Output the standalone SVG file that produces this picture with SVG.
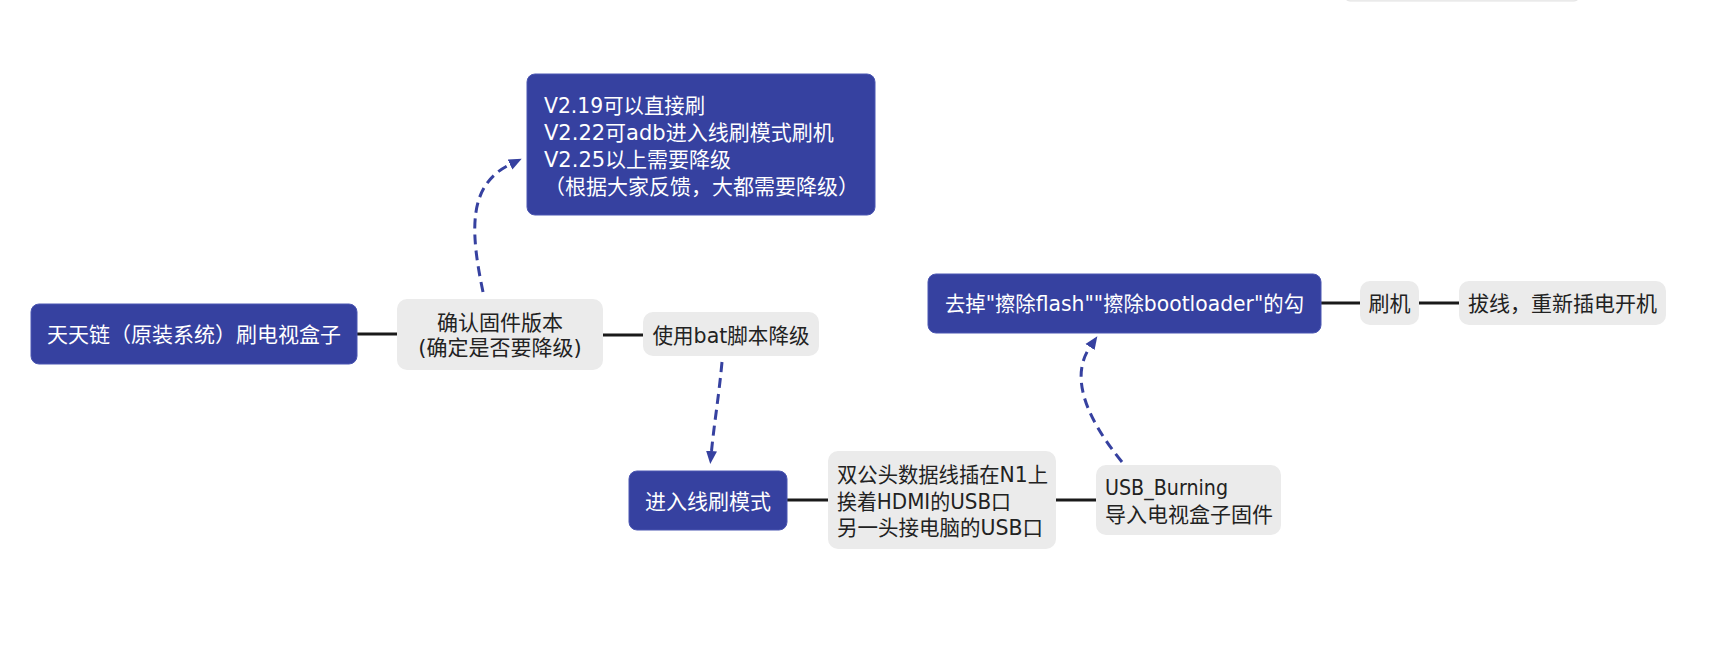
<svg xmlns="http://www.w3.org/2000/svg" width="1719" height="656" viewBox="0 0 1719 656">
<defs>
<style>
.blue{fill:#3641A0;stroke:#4b56b2;stroke-width:1}
.gray{fill:#EBEBEB}
.t{font-family:"DejaVu Sans","Noto Sans CJK SC",sans-serif;font-size:21px}
.tw{fill:#ffffff}
.td{fill:#222222}
.m{text-anchor:middle}
.line{stroke:#1a1a1a;stroke-width:3;fill:none}
.dash{stroke:#3641A0;stroke-width:3;fill:none;stroke-dasharray:10 6}
</style>
<marker id="ah" markerUnits="userSpaceOnUse" markerWidth="14" markerHeight="14" viewBox="0 0 14 14" refX="0" refY="7" orient="auto">
<path d="M0,1.5 L13,7 L0,12.5 z" fill="#3641A0"/>
</marker>
</defs>
<rect width="1719" height="656" fill="#ffffff"/>
<rect x="1344" y="-20" width="236" height="21" rx="6" fill="#f2f2f2" stroke="#e2e2e2" stroke-width="1"/>
<g id="connectors">
<line class="line" x1="357" y1="334" x2="397" y2="334"/>
<line class="line" x1="603" y1="335" x2="643" y2="335"/>
<line class="line" x1="787" y1="500" x2="828" y2="500"/>
<line class="line" x1="1056" y1="500" x2="1096" y2="500"/>
<line class="line" x1="1321" y1="303" x2="1360" y2="303"/>
<line class="line" x1="1419" y1="303" x2="1459" y2="303"/>
<path class="dash" d="M483 292 C470 230 468 185 510 164.5" marker-end="url(#ah)"/>
<path class="dash" d="M722 362 C719 395 714 425 711.5 451" marker-end="url(#ah)"/>
<path class="dash" d="M1122 462 Q1062 388 1090 347" marker-end="url(#ah)"/>
</g>
<g id="root">
<rect class="blue" x="31" y="304" width="326" height="60" rx="8"/>
<text class="t tw m" x="194" y="341.5">天天链（原装系统）刷电视盒子</text>
</g>
<g id="confirm">
<rect class="gray" x="397" y="299" width="206" height="71" rx="10"/>
<text class="t td m" x="500" y="329.5">确认固件版本</text>
<text class="t td m" x="500" y="354.5">(确定是否要降级)</text>
</g>
<g id="versions">
<rect class="blue" x="527" y="74" width="348" height="141" rx="8"/>
<text class="t tw" x="544" y="112.5" textLength="161" lengthAdjust="spacingAndGlyphs">V2.19可以直接刷</text>
<text class="t tw" x="544" y="139.5">V2.22可adb进入线刷模式刷机</text>
<text class="t tw" x="544" y="166.5">V2.25以上需要降级</text>
<text class="t tw" x="544" y="193.5">（根据大家反馈，大都需要降级）</text>
</g>
<g id="bat">
<rect class="gray" x="643" y="312" width="176" height="44" rx="10"/>
<text class="t td m" x="731" y="342.5" textLength="157" lengthAdjust="spacingAndGlyphs">使用bat脚本降级</text>
</g>
<g id="flashmode">
<rect class="blue" x="629" y="471" width="158" height="59" rx="8"/>
<text class="t tw m" x="708" y="508.5">进入线刷模式</text>
</g>
<g id="cable">
<rect class="gray" x="828" y="451" width="228" height="98" rx="10"/>
<text class="t td" x="837" y="481.5" textLength="211" lengthAdjust="spacingAndGlyphs">双公头数据线插在N1上</text>
<text class="t td" x="837" y="508.5" textLength="174" lengthAdjust="spacingAndGlyphs">挨着HDMI的USB口</text>
<text class="t td" x="837" y="534.5" textLength="206" lengthAdjust="spacingAndGlyphs">另一头接电脑的USB口</text>
</g>
<g id="usbburning">
<rect class="gray" x="1096" y="465" width="185" height="70" rx="10"/>
<text class="t td" x="1105" y="494.5" textLength="123" lengthAdjust="spacingAndGlyphs">USB_Burning</text>
<text class="t td" x="1105" y="521.5">导入电视盒子固件</text>
</g>
<g id="uncheck">
<rect class="blue" x="928" y="274" width="393" height="59" rx="8"/>
<text class="t tw m" x="1124.5" y="310.5" textLength="359" lengthAdjust="spacingAndGlyphs">去掉"擦除flash""擦除bootloader"的勾</text>
</g>
<g id="flash">
<rect class="gray" x="1360" y="281" width="59" height="44" rx="10"/>
<text class="t td m" x="1389.5" y="310.5">刷机</text>
</g>
<g id="replug">
<rect class="gray" x="1459" y="281" width="207" height="44" rx="10"/>
<text class="t td m" x="1562.5" y="310.5">拔线，重新插电开机</text>
</g>
</svg>
